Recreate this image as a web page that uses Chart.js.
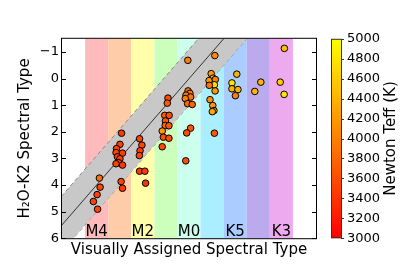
<!DOCTYPE html>
<html><head><meta charset="utf-8">
<script src="https://cdn.jsdelivr.net/npm/chart.js@4/dist/chart.umd.min.js"></script>
<style>html,body{margin:0;padding:0;background:#fff;}</style>
</head><body>
<canvas id="c" width="415" height="277"></canvas>
<script>
// Spectral-type bands (M0 = 0, K7 = -1 ...)
const bandTypes = [4, 3, 2, 1, 0, -1, -2, -3, -4];
const bandNames = ['M4', 'M3', 'M2', 'M1', 'M0', 'K7', 'K5', 'K4', 'K3'];
const bandColors = ['#ffbbbb', '#ffccaa', '#ffffaa', '#ccffbb', '#ccffee', '#aaeeff', '#aaccff', '#bbaaee', '#eeaaee'];
const labeledBands = ['M4', 'M2', 'M0', 'K5', 'K3'];
const yTicks = [-1, 0, 1, 2, 3, 4, 5, 6];
const cbTicks = [3000, 3200, 3400, 3600, 3800, 4000, 4200, 4400, 4600, 4800, 5000];

// Stars
const visualType = [
  3.88, 3.85, 3.98, 4.14, 3.96,
  2.92, 2.99, 3.14, 3.16, 2.88, 3.10, 2.99, 3.05, 3.16, 2.88, 2.94, 2.88,
  2.14, 2.04, 2.12, 2.15, 2.14, 1.91, 1.88,
  0.91, 0.94, 1.05, 0.86, 1.02, 1.03, 0.87, 1.16, 1.11, 0.87, 1.16,
  0.05, 0.04, -0.04, 0.13, -0.07, 0.16, 0.06, -0.14, -0.07, 0.10, 0.14,
  -1.12, -0.96, -1.04, -0.87, -1.14, -1.10, -0.88, -1.13, -0.91, -1.03, -1.08, -1.01, -1.10,
  -2.07, -1.86, -1.86, -2.12, -2.01,
  -3.11, -2.85,
  -4.13, -3.95, -4.12
];
const h2oType = [
  3.74, 4.08, 4.36, 4.62, 4.91,
  2.05, 2.47, 2.63, 2.78, 2.80, 2.94, 3.01, 3.16, 3.20, 3.25, 3.87, 4.12,
  2.26, 2.50, 2.71, 2.89, 3.48, 3.48, 3.93,
  0.73, 0.92, 1.38, 1.38, 1.59, 1.76, 1.77, 1.97, 2.20, 2.24, 2.56,
  -0.69, 0.46, 0.55, 0.62, 0.69, 0.75, 0.94, 0.97, 1.86, 2.04, 3.09,
  -0.87, -0.19, -0.02, 0.07, 0.03, 0.23, 0.25, 0.46, 0.79, 1.01, 1.20, 1.24, 2.05,
  -0.17, 0.16, 0.38, 0.41, 0.64,
  0.13, 0.48,
  -1.14, 0.13, 0.59
];
const teff = [
  3850, 3550, 3500, 3500, 3550,
  3450, 3500, 3500, 3550, 3500, 3450, 3500, 3550, 3500, 3450, 3500, 3450,
  3500, 3550, 3500, 3550, 3450, 3450, 3400,
  3600, 3700, 3700, 3600, 3700, 3800, 3700, 4200, 3600, 3600, 3600,
  4000, 3900, 3900, 3900, 3900, 4000, 3800, 3800, 3700, 3600, 3600,
  4100, 4200, 4400, 4200, 4000, 4700, 3900, 4200, 4100, 4200, 4200, 4300, 3700,
  4400, 4800, 4400, 4400, 4000,
  4400, 4400,
  4500, 4600, 4800
];

// one-to-one line and its scatter band
const lineX = [-7.5, 7.5];
const oneToOneY = [-7.5, 7.5];
const bandUpperY = [-8.6, 6.4];
const bandLowerY = [-6.5, 8.5];

const TMIN = 3000, TMAX = 5000;
function autumn(t) {
  let f = (t - TMIN) / (TMAX - TMIN);
  f = Math.max(0, Math.min(1, f));
  return 'rgb(255,' + Math.round(255 * f) + ',0)';
}
const pts = visualType.map((v, i) => ({x: v, y: h2oType[i]}));
const mk = ys => lineX.map((v, i) => ({x: v, y: ys[i]}));

Chart.defaults.font.family = 'DejaVu Sans';
Chart.defaults.color = '#000';

const FONT_T = {family: 'DejaVu Sans', size: 15};

const decor = {
  id: 'decor',
  beforeDatasetsDraw(chart) {
    const {ctx, chartArea: a, scales: {x}} = chart;
    ctx.save();
    bandTypes.forEach((t, i) => {
      const x1 = x.getPixelForValue(t + 0.5), x2 = x.getPixelForValue(t - 0.5);
      ctx.fillStyle = bandColors[i];
      ctx.fillRect(Math.min(x1, x2), a.top, Math.abs(x2 - x1), a.bottom - a.top);
    });
    ctx.restore();
  },
  afterDatasetsDraw(chart) {
    const {ctx, chartArea: a, scales: {x}} = chart;
    ctx.save();
    ctx.font = '15px "DejaVu Sans"';
    ctx.fillStyle = '#000';
    ctx.textAlign = 'center';
    ctx.textBaseline = 'alphabetic';
    bandNames.forEach((n, i) => {
      if (labeledBands.includes(n)) ctx.fillText(n, x.getPixelForValue(bandTypes[i]), a.bottom - 2);
    });
    ctx.restore();
  },
  afterDraw(chart) {
    const {ctx, chartArea: a, scales: {y, y2}} = chart;
    ctx.save();
    ctx.strokeStyle = '#000';
    ctx.lineWidth = 1;
    ctx.strokeRect(a.left - 0.5, a.top - 0.5, a.right - a.left + 1, a.bottom - a.top + 1);
    ctx.beginPath();
    yTicks.forEach(v => {
      const py = Math.round(y.getPixelForValue(v)) + 0.5;
      ctx.moveTo(a.left, py); ctx.lineTo(a.left + 4, py);
      ctx.moveTo(a.right - 4, py); ctx.lineTo(a.right, py);
    });
    ctx.stroke();
    // colorbar
    const top = y2.getPixelForValue(TMAX), bot = y2.getPixelForValue(TMIN);
    const cx0 = 331, cx1 = 342;
    const g = ctx.createLinearGradient(0, bot, 0, top);
    g.addColorStop(0, autumn(TMIN));
    g.addColorStop(1, autumn(TMAX));
    ctx.fillStyle = g;
    ctx.fillRect(cx0, top, cx1 - cx0, bot - top);
    ctx.strokeStyle = '#333';
    ctx.strokeRect(cx0 + 0.5, top + 0.5, cx1 - cx0 - 1, bot - top - 1);
    ctx.beginPath();
    cbTicks.forEach(v => {
      const py = Math.round(y2.getPixelForValue(v)) + 0.5;
      ctx.moveTo(cx1 - 1, py); ctx.lineTo(cx1 + 2, py);
    });
    ctx.stroke();
    ctx.translate(391.5, (a.top + a.bottom) / 2);
    ctx.rotate(-Math.PI / 2);
    ctx.font = '15px "DejaVu Sans"';
    ctx.fillStyle = '#000';
    ctx.textAlign = 'center';
    ctx.textBaseline = 'middle';
    ctx.fillText('Newton Teff (K)', 0, 0);
    ctx.restore();
  }
};

new Chart(document.getElementById('c'), {
  type: 'scatter',
  data: {
    datasets: [
      {
        label: 'stars', data: pts, order: 0,
        backgroundColor: ctx => autumn(teff[ctx.dataIndex]),
        borderColor: '#000', borderWidth: 1, pointRadius: 3.3
      },
      {
        type: 'line', label: 'one-to-one', data: mk(oneToOneY), order: 1,
        borderColor: '#333', borderWidth: 1, pointRadius: 0, fill: false
      },
      {
        type: 'line', label: 'band upper', data: mk(bandUpperY), order: 2,
        borderColor: '#888', borderWidth: 1, borderDash: [4, 3], pointRadius: 0,
        fill: '+1', backgroundColor: '#c8c8c8'
      },
      {
        type: 'line', label: 'band lower', data: mk(bandLowerY), order: 3,
        borderColor: '#888', borderWidth: 1, borderDash: [4, 3], pointRadius: 0, fill: false
      }
    ]
  },
  options: {
    responsive: false,
    animation: false,
    devicePixelRatio: 1,
    layout: {padding: {top: 23, left: 0, right: 0, bottom: 0}},
    plugins: {legend: {display: false}, tooltip: {enabled: false}},
    scales: {
      x: {
        type: 'linear', position: 'bottom', min: -5.5, max: 5.5, reverse: true,
        grid: {display: false, drawTicks: false}, border: {display: false},
        ticks: {display: false},
        afterFit: s => { s.height = 38; },
        title: {display: true, text: 'Visually Assigned Spectral Type', font: FONT_T, padding: {top: 0, bottom: 17}}
      },
      y: {
        type: 'linear', position: 'left', min: -1.5, max: 6, reverse: true,
        grid: {display: false, drawTicks: false}, border: {display: false},
        afterBuildTicks: s => { s.ticks = yTicks.map(v => ({value: v})); },
        ticks: {font: {size: 13}, padding: 3, callback: v => v < 0 ? '\u2212' + Math.abs(v) : String(v)},
        afterFit: s => { s.width = 62; },
        title: {display: true, text: 'H\u2082O-K2 Spectral Type', font: FONT_T, padding: {top: 16, bottom: 0}}
      },
      y2: {
        type: 'linear', position: 'right', min: TMIN, max: TMAX,
        grid: {display: false, drawTicks: false}, border: {display: false},
        afterBuildTicks: s => { s.ticks = cbTicks.map(v => ({value: v})); },
        ticks: {font: {size: 13}, padding: 31, callback: v => String(v)},
        afterFit: s => { s.width = 99; }
      }
    }
  },
  plugins: [decor]
});
</script>
</body></html>
